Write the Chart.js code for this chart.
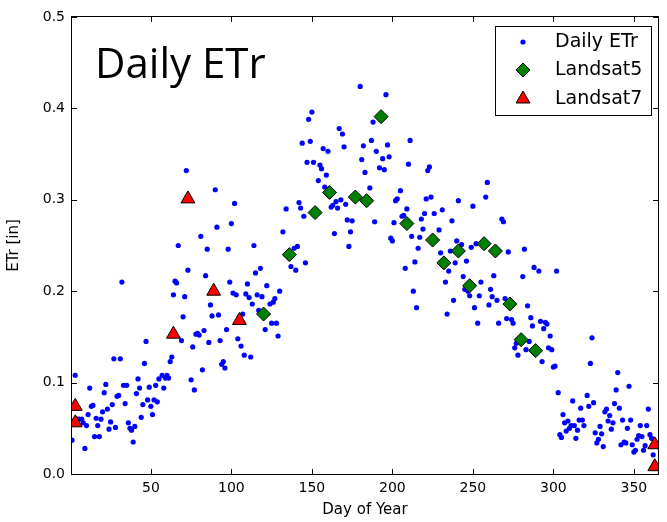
<!DOCTYPE html>
<html>
<head>
<meta charset="utf-8">
<script src="https://cdn.jsdelivr.net/npm/chart.js"></script>
<style>
  body { margin: 0; background: #fff; }
  canvas { display: block; }
</style>
</head>
<body>
<canvas id="myChart" width="667" height="522"></canvas>
<script>
// Datos: ETr diario y fechas Landsat
const etrDays = [
  1, 3, 4, 5, 7, 8, 9, 10, 11, 12,
  13, 14, 15, 16, 17, 18, 19, 20, 21, 22,
  23, 24, 25, 26, 27, 28, 29, 30, 31, 32,
  33, 34, 35, 36, 37, 38, 39, 40, 41, 42,
  43, 44, 45, 46, 47, 48, 49, 50, 51, 52,
  53, 54, 55, 57, 58, 59, 60, 61, 62, 63,
  64, 65, 66, 67, 69, 70, 71, 72, 73, 75,
  76, 77, 78, 79, 80, 81, 82, 83, 84, 85,
  86, 87, 88, 90, 91, 92, 93, 94, 95, 96,
  97, 98, 99, 100, 101, 102, 103, 104, 106, 107,
  108, 109, 110, 111, 112, 113, 114, 115, 116, 117,
  118, 119, 121, 122, 124, 125, 126, 127, 128, 129,
  130, 132, 134, 137, 139, 140, 141, 142, 143, 144,
  145, 146, 147, 148, 149, 150, 151, 154, 155, 156,
  157, 158, 159, 160, 162, 163, 164, 165, 166, 167,
  168, 169, 170, 171, 172, 173, 174, 175, 180, 181,
  182, 183, 186, 187, 188, 189, 190, 192, 194, 195,
  196, 197, 198, 199, 200, 201, 202, 203, 205, 206,
  207, 208, 209, 210, 211, 212, 213, 214, 215, 216,
  217, 218, 219, 220, 221, 222, 223, 224, 226, 229,
  230, 231, 233, 234, 235, 236, 237, 238, 239, 240,
  241, 243, 244, 245, 246, 247, 248, 249, 250, 251,
  252, 253, 254, 255, 258, 259, 260, 261, 262, 263,
  265, 266, 268, 269, 270, 271, 272, 274, 275, 276,
  277, 278, 281, 282, 283, 284, 285, 286, 287, 288,
  291, 292, 293, 294, 295, 296, 297, 298, 299, 300,
  301, 302, 303, 304, 305, 306, 307, 308, 309, 310,
  311, 312, 313, 314, 315, 316, 317, 318, 319, 321,
  322, 323, 324, 325, 326, 327, 328, 329, 330, 331,
  332, 333, 334, 335, 336, 337, 338, 339, 340, 341,
  342, 343, 344, 345, 346, 347, 348, 349, 350, 351,
  352, 353, 354, 355, 356, 357, 358, 359, 360, 361,
  362
];
const etrValues = [
  0.037, 0.108, 0.060, 0.060, 0.060, 0.056, 0.028, 0.053, 0.065, 0.094,
  0.074, 0.075, 0.041, 0.061, 0.053, 0.041, 0.060, 0.068, 0.089, 0.098,
  0.071, 0.049, 0.057, 0.076, 0.126, 0.051, 0.085, 0.086, 0.126, 0.210,
  0.097, 0.077, 0.097, 0.056, 0.050, 0.048, 0.035, 0.052, 0.088, 0.104,
  0.094, 0.062, 0.076, 0.121, 0.145, 0.081, 0.095, 0.074, 0.065, 0.081,
  0.097, 0.079, 0.104, 0.108, 0.094, 0.105, 0.108, 0.105, 0.123, 0.128,
  0.196, 0.211, 0.209, 0.250, 0.146, 0.172, 0.194, 0.332, 0.223, 0.103,
  0.139, 0.092, 0.153, 0.154, 0.152, 0.260, 0.114, 0.157, 0.217, 0.246,
  0.144, 0.185, 0.173, 0.311, 0.270, 0.174, 0.146, 0.120, 0.123, 0.116,
  0.158, 0.246, 0.210, 0.274, 0.198, 0.296, 0.196, 0.148, 0.140, 0.175,
  0.130, 0.197, 0.208, 0.193, 0.128, 0.186, 0.250, 0.220, 0.196, 0.179,
  0.225, 0.194, 0.158, 0.206, 0.186, 0.165, 0.188, 0.192, 0.165, 0.151,
  0.200, 0.265, 0.290, 0.227, 0.247, 0.223, 0.249, 0.297, 0.291, 0.362,
  0.282, 0.231, 0.341, 0.388, 0.364, 0.396, 0.341, 0.321, 0.338, 0.334,
  0.356, 0.314, 0.327, 0.353, 0.292, 0.294, 0.263, 0.298, 0.291, 0.378,
  0.300, 0.372, 0.358, 0.295, 0.278, 0.249, 0.265, 0.277, 0.424, 0.344,
  0.359, 0.330, 0.313, 0.365, 0.385, 0.276, 0.353, 0.335, 0.345, 0.333,
  0.415, 0.360, 0.347, 0.258, 0.255, 0.275, 0.299, 0.301, 0.310, 0.282,
  0.283, 0.225, 0.290, 0.339, 0.365, 0.260, 0.200, 0.232, 0.182, 0.247,
  0.259, 0.279, 0.268, 0.285, 0.301, 0.332, 0.336, 0.303, 0.285, 0.267,
  0.242, 0.289, 0.210, 0.175, 0.222, 0.244, 0.277, 0.190, 0.231, 0.255,
  0.299, 0.251, 0.216, 0.202, 0.233, 0.200, 0.195, 0.248, 0.293, 0.182,
  0.252, 0.165, 0.195, 0.210, 0.303, 0.319, 0.185, 0.202, 0.194, 0.217,
  0.190, 0.165, 0.279, 0.276, 0.192, 0.170, 0.243, 0.169, 0.165, 0.138,
  0.143, 0.130, 0.216, 0.246, 0.136, 0.184, 0.145, 0.171, 0.162, 0.226,
  0.222, 0.167, 0.123, 0.159, 0.166, 0.164, 0.138, 0.151, 0.136, 0.117,
  0.118, 0.222, 0.089, 0.043, 0.040, 0.065, 0.056, 0.047, 0.058, 0.050,
  0.053, 0.080, 0.053, 0.039, 0.048, 0.059, 0.072, 0.059, 0.053, 0.086,
  0.074, 0.121, 0.149, 0.078, 0.045, 0.034, 0.038, 0.052, 0.044, 0.030,
  0.068, 0.071, 0.058, 0.064, 0.049, 0.056, 0.077, 0.092, 0.111, 0.072,
  0.032, 0.059, 0.035, 0.034, 0.050, 0.096, 0.059, 0.032, 0.024, 0.026,
  0.038, 0.042, 0.053, 0.041, 0.026, 0.031, 0.053, 0.071, 0.043, 0.039,
  0.021
];
const l5Days = [120, 136, 152, 161, 177, 184, 193, 209, 225, 232, 241, 248, 257, 264, 273, 280, 289];
const l5Values = [0.175, 0.240, 0.286, 0.308, 0.303, 0.299, 0.391, 0.274, 0.256, 0.231, 0.244, 0.206, 0.252, 0.244, 0.186, 0.147, 0.135];
const l7Days = [3, 3, 64, 73, 89, 105, 363, 363];
const l7Values = [0.074, 0.056, 0.153, 0.301, 0.200, 0.168, 0.032, 0.008];
const xTicks = [50, 100, 150, 200, 250, 300, 350];
const yTicks = [0, 0.1, 0.2, 0.3, 0.4, 0.5];

const fuente = 'DejaVu Sans';

function toPoints(days, values) {
    return days.map((d, i) => ({ x: d, y: values[i] }));
}

// Marco, ticks hacia dentro, título y leyenda dentro del área
const extrasPlugin = {
    id: 'extras',
    afterDatasetsDraw(chart) {
        const ctx = chart.ctx;
        const a = chart.chartArea;
        const xs = chart.scales.x;
        const ys = chart.scales.y;
        const tickLen = 5;
        ctx.save();
        ctx.strokeStyle = '#000';
        ctx.lineWidth = 1;
        ctx.strokeRect(a.left - 0.5, a.top - 0.5, a.right - a.left + 1, a.bottom - a.top + 1);
        ctx.beginPath();
        xTicks.forEach(v => {
            const px = Math.round(xs.getPixelForValue(v)) + 0.5;
            ctx.moveTo(px, a.bottom); ctx.lineTo(px, a.bottom - tickLen);
            ctx.moveTo(px, a.top); ctx.lineTo(px, a.top + tickLen);
        });
        yTicks.forEach(v => {
            const py = Math.round(ys.getPixelForValue(v)) + 0.5;
            ctx.moveTo(a.left, py); ctx.lineTo(a.left + tickLen, py);
            ctx.moveTo(a.right, py); ctx.lineTo(a.right - tickLen, py);
        });
        ctx.stroke();

        // Título dentro del gráfico
        ctx.fillStyle = '#000';
        ctx.font = '42px "Open Sans"';
        ctx.textBaseline = 'alphabetic';
        ctx.textAlign = 'left';
        ctx.fillText('Daily ETr', a.left + 23, a.top + 61);

        // Leyenda
        const bx = a.right - 163, by = a.top + 9, bw = 156, bh = 89;
        ctx.fillStyle = '#fff';
        ctx.fillRect(bx, by, bw, bh);
        ctx.strokeStyle = '#000';
        ctx.strokeRect(bx + 0.5, by + 0.5, bw, bh);
        const mx = bx + 28;
        const rows = [by + 16, by + 44, by + 73];
        chart.data.datasets.forEach((ds, i) => {
            const y = rows[i];
            ctx.fillStyle = ds.backgroundColor;
            ctx.strokeStyle = ds.borderColor;
            ctx.lineWidth = ds.borderWidth;
            ctx.beginPath();
            if (ds.pointStyle === 'circle') {
                ctx.arc(mx, y, ds.pointRadius, 0, Math.PI * 2);
            } else if (ds.pointStyle === 'rectRot') {
                const r = ds.pointRadius;
                ctx.moveTo(mx, y - r); ctx.lineTo(mx + r, y); ctx.lineTo(mx, y + r); ctx.lineTo(mx - r, y);
                ctx.closePath();
            } else {
                const r = ds.pointRadius;
                ctx.moveTo(mx, y - r);
                ctx.lineTo(mx + r * Math.sqrt(3) / 2, y + r / 2);
                ctx.lineTo(mx - r * Math.sqrt(3) / 2, y + r / 2);
                ctx.closePath();
            }
            ctx.fill();
            if (ds.borderWidth > 0) ctx.stroke();
            ctx.fillStyle = '#000';
            ctx.font = '19px "' + fuente + '"';
            ctx.textBaseline = 'middle';
            ctx.fillText(ds.label, bx + 60, y);
        });
        ctx.restore();
    }
};

const ctx = document.getElementById('myChart').getContext('2d');
const myChart = new Chart(ctx, {
    type: 'scatter',
    data: {
        datasets: [{
            label: 'Daily ETr',
            data: toPoints(etrDays, etrValues),
            pointStyle: 'circle',
            pointRadius: 2.6,
            backgroundColor: '#0000ff',
            borderColor: '#0000ff',
            borderWidth: 0,
            order: 3,
            clip: 0
        }, {
            label: 'Landsat5',
            data: toPoints(l5Days, l5Values),
            pointStyle: 'rectRot',
            pointRadius: 7,
            backgroundColor: '#008000',
            borderColor: '#000',
            borderWidth: 1,
            order: 2,
            clip: 0
        }, {
            label: 'Landsat7',
            data: toPoints(l7Days, l7Values),
            pointStyle: 'triangle',
            pointRadius: 8,
            backgroundColor: '#ff0000',
            borderColor: '#000',
            borderWidth: 1,
            order: 1,
            clip: 0
        }]
    },
    options: {
        responsive: false,
        animation: false,
        layout: { padding: { top: 17, right: 5, left: 0, bottom: 0 } },
        plugins: {
            legend: { display: false },
            tooltip: { enabled: false }
        },
        scales: {
            x: {
                type: 'linear',
                min: 1,
                max: 365,
                grid: { display: false, drawTicks: false },
                border: { display: false },
                afterBuildTicks: s => { s.ticks = xTicks.map(v => ({ value: v })); },
                afterFit: s => { s.height = 48; },
                ticks: { padding: 6, color: '#000', font: { family: fuente, size: 14 } },
                title: { display: true, text: 'Day of Year', color: '#000', padding: { top: 0, bottom: 3 }, font: { family: fuente, size: 15 } }
            },
            y: {
                min: 0,
                max: 0.5,
                grid: { display: false, drawTicks: false },
                border: { display: false },
                afterBuildTicks: s => { s.ticks = yTicks.map(v => ({ value: v })); },
                afterFit: s => { s.width = 72; },
                ticks: {
                    padding: 7, color: '#000', font: { family: fuente, size: 14 },
                    callback: v => v.toFixed(1)
                },
                title: { display: true, text: 'ETr [in]', color: '#000', padding: { top: 5, bottom: 0 }, font: { family: fuente, size: 15 } }
            }
        }
    },
    plugins: [extrasPlugin]
});
</script>
</body>
</html>
